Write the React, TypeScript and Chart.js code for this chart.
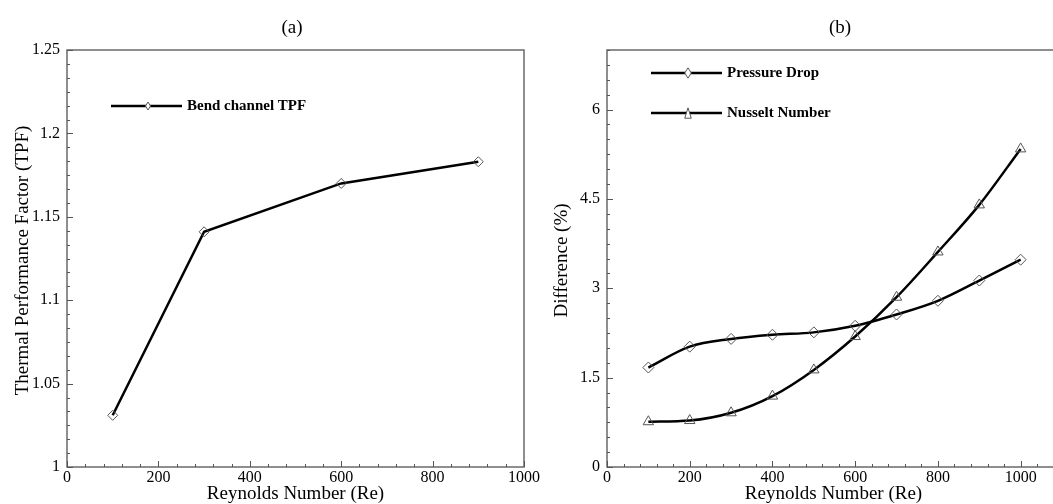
import React, { useEffect, useRef } from "react";
import { Chart, registerables } from "chart.js";

Chart.register(...registerables);

// ---- Data ----
const reynoldsA = [100, 300, 600, 900];
const tpfValues = [1.031, 1.141, 1.17, 1.183];

const reynoldsB = [100, 200, 300, 400, 500, 600, 700, 800, 900, 1000];
const pressureDrop = [1.67, 2.02, 2.15, 2.22, 2.26, 2.37, 2.56, 2.79, 3.13, 3.48];
const nusseltNumber = [0.76, 0.78, 0.91, 1.19, 1.63, 2.19, 2.85, 3.61, 4.4, 5.34];

const xTicksA = [0, 200, 400, 600, 800, 1000];
const yTicksA = [1, 1.05, 1.1, 1.15, 1.2, 1.25];
const xTicksB = [0, 200, 400, 600, 800, 1000];
const yTicksB = [0, 1.5, 3, 4.5, 6];

const SERIF = "'Liberation Serif', 'Times New Roman', serif";

type LegendItem = { label: string; marker: "diamond" | "triangle" };

type PanelOpts = {
  title: string;
  titleX: number;
  xTitle: string;
  yTitle: string;
  yTitleX: number;
  xTicks: number[];
  yTicks: number[];
  xMinor: number;
  yMinor: number;
  legend: LegendItem[];
  legendDy: number[];
  legendScale: number;
};

function drawMarker(ctx: CanvasRenderingContext2D, kind: string, x: number, y: number, w: number, h: number) {
  ctx.beginPath();
  if (kind === "diamond") {
    ctx.moveTo(x, y - h / 2);
    ctx.lineTo(x + w / 2, y);
    ctx.lineTo(x, y + h / 2);
    ctx.lineTo(x - w / 2, y);
    ctx.closePath();
  } else {
    ctx.moveTo(x, y - h / 2);
    ctx.lineTo(x + w / 2, y + h / 2);
    ctx.lineTo(x - w / 2, y + h / 2);
    ctx.closePath();
  }
  ctx.fillStyle = "#fff";
  ctx.fill();
  ctx.strokeStyle = "#555";
  ctx.lineWidth = 1;
  ctx.stroke();
}

const panelPlugin = {
  id: "panelDecor",
  afterDraw(chart: any, _args: any, opts: PanelOpts) {
    const ctx: CanvasRenderingContext2D = chart.ctx;
    const { left, right, top, bottom } = chart.chartArea;
    const xs = chart.scales.x;
    const ys = chart.scales.y;
    ctx.save();

    // frame
    ctx.strokeStyle = "#6a6a6a";
    ctx.lineWidth = 1.5;
    ctx.strokeRect(left, top, right - left, bottom - top);

    // ticks (inward)
    ctx.strokeStyle = "#555";
    ctx.lineWidth = 1;
    const isMajor = (arr: number[], v: number) => arr.some((m) => Math.abs(m - v) < 1e-6);
    for (let v = xs.min; v <= xs.max + 1e-6; v += opts.xMinor) {
      const px = Math.round(xs.getPixelForValue(v)) + 0.5;
      const len = isMajor(opts.xTicks, v) ? 6 : 3;
      ctx.beginPath();
      ctx.moveTo(px, bottom);
      ctx.lineTo(px, bottom - len);
      ctx.stroke();
    }
    for (let v = ys.min; v <= ys.max + 1e-6; v += opts.yMinor) {
      const py = Math.round(ys.getPixelForValue(v)) + 0.5;
      const len = isMajor(opts.yTicks, v) ? 6 : 3;
      ctx.beginPath();
      ctx.moveTo(left, py);
      ctx.lineTo(left + len, py);
      ctx.stroke();
    }

    // panel title
    ctx.fillStyle = "#000";
    ctx.font = `19px ${SERIF}`;
    ctx.textAlign = "center";
    ctx.textBaseline = "middle";
    ctx.fillText(opts.title, opts.titleX, 28);

    // x title
    ctx.font = `19px ${SERIF}`;
    ctx.fillText(opts.xTitle, (left + right) / 2 + (opts.legendScale > 1 ? -1 : 0), 494);

    // y title
    ctx.save();
    ctx.translate(opts.yTitleX, (top + bottom) / 2 + 2);
    ctx.rotate(-Math.PI / 2);
    ctx.fillText(opts.yTitle, 0, 0);
    ctx.restore();

    // legend
    opts.legend.forEach((item, i) => {
      const y = top + opts.legendDy[i];
      ctx.strokeStyle = "#000";
      ctx.lineWidth = 2.5;
      ctx.beginPath();
      ctx.moveTo(left + 44, y);
      ctx.lineTo(left + 115, y);
      ctx.stroke();
      const s = opts.legendScale;
      drawMarker(ctx, item.marker, left + 81, y, 5 * s, 8 * s);
      ctx.fillStyle = "#000";
      ctx.font = `bold 15px ${SERIF}`;
      ctx.textAlign = "left";
      ctx.textBaseline = "middle";
      ctx.fillText(item.label, left + 120, y);
    });

    ctx.restore();
  },
};

function makeScales(xMax: number, yMin: number, yMax: number, xTicks: number[], yTicks: number[], yFmt: (v: number) => string) {
  const tickFont = { family: SERIF, size: 16 };
  return {
    x: {
      type: "linear",
      min: 0,
      max: xMax,
      grid: { display: false, drawTicks: false },
      border: { display: false },
      ticks: { font: tickFont, color: "#000", padding: 1, maxRotation: 0, callback: (v: number) => String(v) },
      afterBuildTicks: (s: any) => {
        s.ticks = xTicks.map((v) => ({ value: v }));
      },
      afterFit: (s: any) => {
        s.height = 37;
        s.paddingLeft = 0;
        s.paddingRight = 0;
      },
    },
    y: {
      type: "linear",
      min: yMin,
      max: yMax,
      grid: { display: false, drawTicks: false },
      border: { display: false },
      ticks: { font: tickFont, color: "#000", padding: 7, callback: (v: number) => yFmt(v) },
      afterBuildTicks: (s: any) => {
        s.ticks = yTicks.map((v) => ({ value: v }));
      },
      afterFit: (s: any) => {
        s.width = 67;
        s.paddingTop = 0;
        s.paddingBottom = 0;
      },
    },
  };
}

export default function App() {
  const refA = useRef<HTMLCanvasElement>(null);
  const refB = useRef<HTMLCanvasElement>(null);

  useEffect(() => {
    const chartA = new Chart(refA.current as HTMLCanvasElement, {
      type: "line",
      data: {
        datasets: [
          {
            label: "Bend channel TPF",
            data: reynoldsA.map((x, i) => ({ x, y: tpfValues[i] })),
            borderColor: "#000",
            borderWidth: 2.5,
            tension: 0,
            pointStyle: "rectRot",
            pointRadius: 5,
            pointBorderColor: "#555",
            pointBorderWidth: 1,
            pointBackgroundColor: "rgba(255,255,255,0)",
          },
        ],
      },
      options: {
        responsive: false,
        animation: false,
        layout: { padding: { top: 50, left: 0, right: 36, bottom: 0 } },
        plugins: {
          legend: { display: false },
          tooltip: { enabled: false },
          panelDecor: {
            title: "(a)",
            titleX: 292,
            xTitle: "Reynolds Number (Re)",
            yTitle: "Thermal Performance Factor (TPF)",
            yTitleX: 23,
            xTicks: xTicksA,
            yTicks: yTicksA,
            xMinor: 40,
            yMinor: 0.05 / 6,
            legend: [{ label: "Bend channel TPF", marker: "diamond" }],
            legendDy: [56],
            legendScale: 1,
          },
        } as any,
        scales: makeScales(1000, 1, 1.25, xTicksA, yTicksA, (v) => String(Math.round(v * 100) / 100)) as any,
      },
      plugins: [panelPlugin as any],
    });

    const chartB = new Chart(refB.current as HTMLCanvasElement, {
      type: "line",
      data: {
        datasets: [
          {
            label: "Pressure Drop",
            data: reynoldsB.map((x, i) => ({ x, y: pressureDrop[i] })),
            borderColor: "#000",
            borderWidth: 2.5,
            cubicInterpolationMode: "monotone",
            pointStyle: "rectRot",
            pointRadius: 5.5,
            pointBorderColor: "#555",
            pointBorderWidth: 1,
            pointBackgroundColor: "rgba(255,255,255,0)",
          },
          {
            label: "Nusselt Number",
            data: reynoldsB.map((x, i) => ({ x, y: nusseltNumber[i] })),
            borderColor: "#000",
            borderWidth: 2.5,
            cubicInterpolationMode: "monotone",
            pointStyle: "triangle",
            pointRadius: 6,
            pointBorderColor: "#555",
            pointBorderWidth: 1,
            pointBackgroundColor: "rgba(255,255,255,0)",
          },
        ],
      },
      options: {
        responsive: false,
        animation: false,
        layout: { padding: { top: 50, left: 0, right: 38, bottom: 0 } },
        plugins: {
          legend: { display: false },
          tooltip: { enabled: false },
          panelDecor: {
            title: "(b)",
            titleX: 300,
            xTitle: "Reynolds Number (Re)",
            yTitle: "Difference (%)",
            yTitleX: 22,
            xTicks: xTicksB,
            yTicks: yTicksB,
            xMinor: 40,
            yMinor: 0.25,
            legend: [
              { label: "Pressure Drop", marker: "diamond" },
              { label: "Nusselt Number", marker: "triangle" },
            ],
            legendDy: [23, 63],
            legendScale: 1.3,
          },
        } as any,
        scales: makeScales(1100, 0, 7, xTicksB, yTicksB, (v) => String(v)) as any,
      },
      plugins: [panelPlugin as any],
    });

    return () => {
      chartA.destroy();
      chartB.destroy();
    };
  }, []);

  return (
    <div
      style={{
        position: "fixed",
        left: 0,
        top: 0,
        width: 1053,
        height: 504,
        overflow: "hidden",
        background: "#fff",
      }}
    >
      <canvas ref={refA} width={560} height={504} style={{ position: "absolute", left: 0, top: 0 }} />
      <canvas ref={refB} width={560} height={504} style={{ position: "absolute", left: 540, top: 0 }} />
    </div>
  );
}
